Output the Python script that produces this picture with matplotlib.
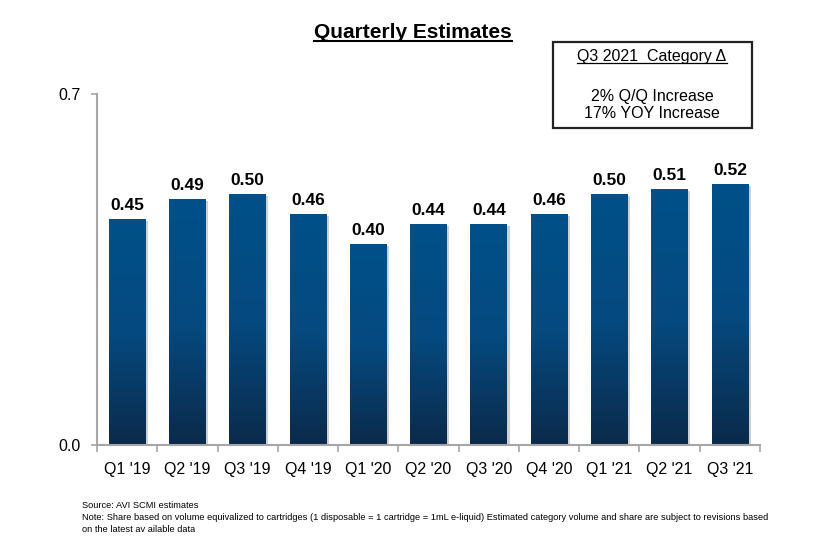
import numpy as np
import matplotlib
matplotlib.use("Agg")
import matplotlib.pyplot as plt
from matplotlib.patches import Rectangle
from matplotlib.lines import Line2D
from matplotlib.colors import LinearSegmentedColormap

plt.rcParams["font.family"] = ["Liberation Sans", "DejaVu Sans"]

quarters = ["Q1 '19", "Q2 '19", "Q3 '19", "Q4 '19", "Q1 '20", "Q2 '20",
            "Q3 '20", "Q4 '20", "Q1 '21", "Q2 '21", "Q3 '21"]
estimates = [0.45, 0.49, 0.50, 0.46, 0.40, 0.44, 0.44, 0.46, 0.50, 0.51, 0.52]
box_lines = ["2% Q/Q Increase", "17% YOY Increase"]
notes = ["Source: AVI SCMI estimates",
         "Note: Share based on volume equivalized to cartridges (1 disposable = 1 cartridge = 1mL e-liquid) "
         "Estimated category volume and share are subject to revisions based",
         "on the latest av ailable data"]

fig = plt.figure(figsize=(8.33, 5.42), dpi=100)
ax = fig.add_axes([0.1164, 0.179, 0.796, 0.6476])

bar_cmap = LinearSegmentedColormap.from_list("bars", ["#0b2a4b", "#054a80", "#005089"])
grad = np.linspace(0, 1, 256).reshape(-1, 1)
width = 0.61
for i, v in enumerate(estimates):
    x0 = i + 0.5 - width / 2
    # soft shadow on the right
    ax.add_patch(Rectangle((x0 + 0.04, 0), width, v - 0.004, color="#d0d0d0", lw=0, zorder=1))
    rect = Rectangle((x0, 0), width, v, facecolor="none", lw=0, zorder=2)
    ax.add_patch(rect)
    im = ax.imshow(grad, cmap=bar_cmap, aspect="auto", origin="lower",
                   extent=[x0, x0 + width, 0, v], zorder=2)
    im.set_clip_path(rect)
    ax.text(i + 0.5, v + 0.012, f"{v:.2f}", ha="center", va="bottom",
            fontsize=12.5, fontweight="bold", zorder=3)

ax.set_xlim(0, len(quarters))
ax.set_ylim(0, 0.7)
ax.set_yticks([0.0, 0.7])
ax.set_yticklabels(["0.0", "0.7"], fontsize=11.5)
ax.set_xticks(np.arange(len(quarters) + 1))
ax.set_xticklabels([])
ax.set_xticks(np.arange(len(quarters)) + 0.5, minor=True)
ax.set_xticklabels(quarters, minor=True, fontsize=11.5)
ax.tick_params(axis="x", which="minor", length=0, pad=12)
ax.tick_params(axis="x", which="major", length=5, color="#a6a6a6", width=1.2)
ax.tick_params(axis="y", length=4, color="#a6a6a6", width=1.2, pad=8)
for s in ["top", "right"]:
    ax.spines[s].set_visible(False)
for s in ["left", "bottom"]:
    ax.spines[s].set_color("#a6a6a6")
    ax.spines[s].set_linewidth(1.5)

title = fig.text(413 / 833, 1 - 33 / 542, "Quarterly Estimates", ha="center", va="center",
                 fontsize=15, fontweight="bold")

# annotation box
fig.patches.append(Rectangle((553 / 833, 1 - 128 / 542), 199 / 833, 86 / 542,
                             transform=fig.transFigure, fill=False, ec="#222222", lw=1.6))
box_title = fig.text(652 / 833, 1 - 57 / 542, "Q3 2021  Category \u0394", ha="center",
                     va="center", fontsize=11.5)
fig.text(652 / 833, 1 - 96 / 542, box_lines[0], ha="center", va="center", fontsize=11.5)
fig.text(652 / 833, 1 - 114 / 542, box_lines[1], ha="center", va="center", fontsize=11.5)

for k, line in enumerate(notes):
    fig.text(82 / 833, 1 - (505 + 12 * k) / 542, line, ha="left", va="center", fontsize=6.65)

# underline the titles
fig.canvas.draw()
r = fig.canvas.get_renderer()
for t, lw in [(title, 1.5), (box_title, 0.9)]:
    bb = t.get_window_extent(r).transformed(fig.transFigure.inverted())
    y = bb.y0 + 0.002
    fig.lines.append(Line2D([bb.x0, bb.x1], [y, y], transform=fig.transFigure,
                            color="black", lw=lw))

fig.savefig("out.png", dpi=100)
